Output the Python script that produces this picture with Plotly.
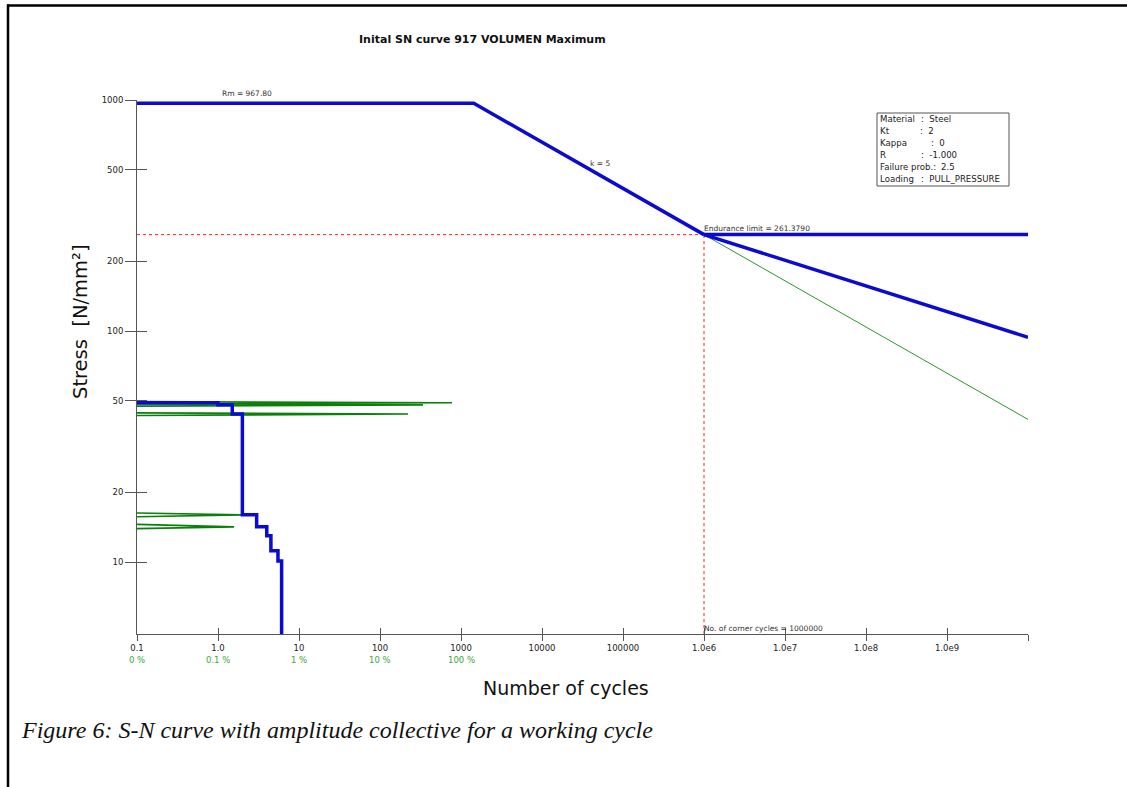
import numpy as np
import plotly.graph_objects as go

# ---------------- data ----------------
Rm = 967.80
endurance_limit = 261.3790
corner_cycles = 1.0e6
k1 = 5
k2 = 9
n_max = 1.0e10
n_min = 0.1

# S-N curve knee points
n_knee = corner_cycles * (endurance_limit / Rm) ** k1
sn_cycles = [n_min, n_knee, corner_cycles]
sn_stress = [Rm, Rm, endurance_limit]

# after corner: horizontal, Haibach (k2) and elementary Miner (k1)
s_haibach_end = endurance_limit * (corner_cycles / n_max) ** (1.0 / k2)
s_miner_end = endurance_limit * (corner_cycles / n_max) ** (1.0 / k1)

# amplitude collective (cumulative cycles, stress)
coll_cycles = [0.1, 1.0, 1.5, 2.0, 3.0, 4.0, 4.5, 5.5, 6.1, 6.1]
coll_stress = [48.9, 47.9, 43.7, 16.0, 14.2, 13.0, 11.2, 10.1, 10.1, 3.0]

# green wedges: (tip cycles, tip stress, left top stress, left bottom stress)
wedge_tip_n = [774, 340, 222, 2.0, 1.58]
wedge_tip_s = [48.9, 47.9, 43.7, 16.0, 14.2]
wedge_top_s = [49.5, 48.4, 44.2, 16.3, 14.55]
wedge_bot_s = [48.4, 47.3, 43.1, 15.7, 13.95]

x_tickvals = [0.1, 1, 10, 100, 1000, 1e4, 1e5, 1e6, 1e7, 1e8, 1e9, 1e10]
x_ticktext = ["0.1", "1.0", "10", "100", "1000", "10000", "100000",
              "1.0e6", "1.0e7", "1.0e8", "1.0e9", ""]
y_tickvals = [10, 20, 50, 100, 200, 500, 1000]
y_ticktext = ["10", "20", "50", "100", "200", "500", "1000"]
pct_vals = [0.1, 1, 10, 100, 1000]
pct_text = ["0 %", "0.1 %", "1 %", "10 %", "100 %"]

info_keys = ["Material", "Kt", "Kappa", "R", "Failure prob.:", "Loading"]
info_vals = ["Steel", "2", "0", "-1.000", "2.5", "PULL_PRESSURE"]

NB = "\u00a0"
y_min = 4.88
FONT = "DejaVu Sans"
BLUE = "#0a0ad2"
GREEN = "#0a800a"
AXC = "#555555"

fig = go.Figure()

# red dotted reference lines
fig.add_trace(go.Scatter(x=[n_min, corner_cycles], y=[endurance_limit, endurance_limit],
                         mode="lines", line=dict(color="#ff2020", width=1, dash="dot"),
                         hoverinfo="skip", showlegend=False))
fig.add_trace(go.Scatter(x=[corner_cycles, corner_cycles], y=[y_min, endurance_limit],
                         mode="lines", line=dict(color="#ff2020", width=1, dash="dot"),
                         hoverinfo="skip", showlegend=False))

# green wedges (outlined)
for tn, ts, st, sb in zip(wedge_tip_n, wedge_tip_s, wedge_top_s, wedge_bot_s):
    fig.add_trace(go.Scatter(x=[n_min, tn, n_min], y=[st, ts, sb],
                             mode="lines", line=dict(color=GREEN, width=1.6),
                             hoverinfo="skip", showlegend=False))

# green Miner line
fig.add_trace(go.Scatter(x=[corner_cycles, n_max], y=[endurance_limit, s_miner_end],
                         mode="lines", line=dict(color="#2a9a2a", width=1),
                         hoverinfo="skip", showlegend=False))

# S-N curve
fig.add_trace(go.Scatter(x=sn_cycles, y=sn_stress, mode="lines",
                         line=dict(color=BLUE, width=3.5), showlegend=False))
fig.add_trace(go.Scatter(x=[corner_cycles, n_max], y=[endurance_limit, endurance_limit],
                         mode="lines", line=dict(color=BLUE, width=3.5), showlegend=False))
fig.add_trace(go.Scatter(x=[corner_cycles, n_max], y=[endurance_limit, s_haibach_end],
                         mode="lines", line=dict(color=BLUE, width=3.5), showlegend=False))

# collective
fig.add_trace(go.Scatter(x=coll_cycles, y=coll_stress, mode="lines",
                         line=dict(color=BLUE, width=3.5, shape="hv"), showlegend=False))

# invisible trace for overlay axes (inside ticks)
fig.add_trace(go.Scatter(x=[100], y=[100], xaxis="x2", yaxis="y2", mode="markers",
                         marker=dict(opacity=0), hoverinfo="skip", showlegend=False))

xr = [np.log10(n_min), np.log10(n_max)]
yr = [np.log10(y_min), 3]

fig.update_layout(
    width=1127, height=787,
    margin=dict(l=137, r=99, t=100, b=153),
    paper_bgcolor="white", plot_bgcolor="white",
    font=dict(family=FONT, color="#333333", size=9),
    showlegend=False,
    xaxis=dict(type="log", range=xr, tickvals=x_tickvals, ticktext=x_ticktext,
               ticks="outside", ticklen=6, tickcolor=AXC, tickwidth=1,
               showline=True, linecolor=AXC, linewidth=1, showgrid=False,
               zeroline=False, tickfont=dict(size=8.5, family=FONT, color="#222")),
    yaxis=dict(type="log", range=yr, tickvals=y_tickvals, ticktext=y_ticktext,
               ticks="outside", ticklen=11, tickcolor=AXC, tickwidth=1,
               showline=True, linecolor=AXC, linewidth=1, showgrid=False,
               zeroline=False, tickfont=dict(size=8.5, family=FONT, color="#222")),
    xaxis2=dict(type="log", range=xr, tickvals=x_tickvals, overlaying="x", anchor="y",
                side="bottom", ticks="inside", ticklen=6, tickcolor=AXC, tickwidth=1,
                showticklabels=False, showline=False, showgrid=False, zeroline=False),
    yaxis2=dict(type="log", range=yr, tickvals=y_tickvals, overlaying="y", anchor="x",
                side="left", ticks="inside", ticklen=10, tickcolor=AXC, tickwidth=1,
                showticklabels=False, showline=False, showgrid=False, zeroline=False),
)


def px_x(px):
    return (px - 137) / 891.0


def px_y(py):
    return (634 - py) / 534.0


ann = []
# title
ann.append(dict(text="<b>Inital SN curve 917 VOLUMEN Maximum</b>", xref="paper", yref="paper",
                x=px_x(482), y=px_y(40), xanchor="center", yanchor="middle", showarrow=False,
                font=dict(size=11, family=FONT, color="#111")))
# axis titles
ann.append(dict(text="Stress" + NB * 2 + "[N/mm²]", xref="paper", yref="paper", x=px_x(80),
                y=px_y(322), xanchor="center", yanchor="middle",
                textangle=-90, showarrow=False, font=dict(size=19.5, family=FONT, color="#111")))
ann.append(dict(text="Number of cycles", xref="paper", yref="paper", x=px_x(566), y=px_y(688),
                xanchor="center", yanchor="middle",
                showarrow=False, font=dict(size=19, family=FONT, color="#111")))
# caption
ann.append(dict(text="<i>Figure 6: S-N curve with amplitude collective for a working cycle</i>",
                xref="paper", yref="paper", x=px_x(19), y=px_y(730), xanchor="left",
                yanchor="middle", showarrow=False,
                font=dict(size=24, family="Liberation Serif", color="#111")))
# percent labels
for v, t in zip(pct_vals, pct_text):
    ann.append(dict(text=t, x=np.log10(v), xref="x", yref="paper", y=0, yshift=-26,
                    xanchor="center", yanchor="middle",
                    showarrow=False, font=dict(size=8.5, family=FONT, color="#3aa83a")))
# curve labels
ann.append(dict(text="Rm = %.2f" % Rm, x=0.358, y=np.log10(Rm), yshift=10, showarrow=False,
                xanchor="center", yanchor="middle",
                font=dict(size=7.5, family=FONT, color="#333")))
ann.append(dict(text="k = %d" % k1, x=4.716, y=np.log10(533), showarrow=False,
                xanchor="center", yanchor="middle",
                font=dict(size=7.5, family=FONT, color="#333")))
ann.append(dict(text="Endurance limit = %.4f" % endurance_limit, x=np.log10(corner_cycles),
                y=np.log10(endurance_limit), xanchor="left", yanchor="middle", yshift=6,
                xshift=-2, showarrow=False, font=dict(size=7.5, family=FONT, color="#333")))
ann.append(dict(text="No. of corner cycles = %d" % corner_cycles, x=np.log10(corner_cycles),
                xref="x", yref="paper", y=0, yshift=6, xanchor="left", yanchor="middle",
                xshift=-2, showarrow=False, font=dict(size=7.5, family=FONT, color="#333")))
# info box lines (key + ": value"); failure line keeps its colon in the key
box_left = px_x(877)
value_px = [919, 918, 929, 919, 939, 919]
for i, (k, v) in enumerate(zip(info_keys, info_vals)):
    yy = px_y(119 + 12 * i)
    ann.append(dict(text=k, xref="paper", yref="paper", x=px_x(878), y=yy,
                    xanchor="left", yanchor="middle",
                    showarrow=False, font=dict(size=8.6, family=FONT, color="#222")))
    vt = v if k.endswith(":") else ":" + NB * 2 + v
    ann.append(dict(text=vt, xref="paper", yref="paper", x=px_x(value_px[i]), y=yy,
                    xanchor="left", yanchor="middle",
                    showarrow=False, font=dict(size=8.6, family=FONT, color="#222")))
fig.update_layout(annotations=ann)

shapes = [
    dict(type="rect", xref="paper", yref="paper", x0=box_left, x1=px_x(1009),
         y0=px_y(186), y1=px_y(113), line=dict(color="#555", width=1)),
    # page frame (left & top)
    dict(type="line", xref="paper", yref="paper", x0=px_x(8), x1=px_x(8),
         y0=px_y(4.5), y1=px_y(800), line=dict(color="black", width=2.5)),
    dict(type="line", xref="paper", yref="paper", x0=px_x(7), x1=px_x(1140),
         y0=px_y(5.5), y1=px_y(5.5), line=dict(color="black", width=2.5)),
]
fig.update_layout(shapes=shapes)

fig.write_html("out.html", config={"displayModeBar": False},
               post_script="document.body.style.margin='0';document.body.style.padding='0';")
